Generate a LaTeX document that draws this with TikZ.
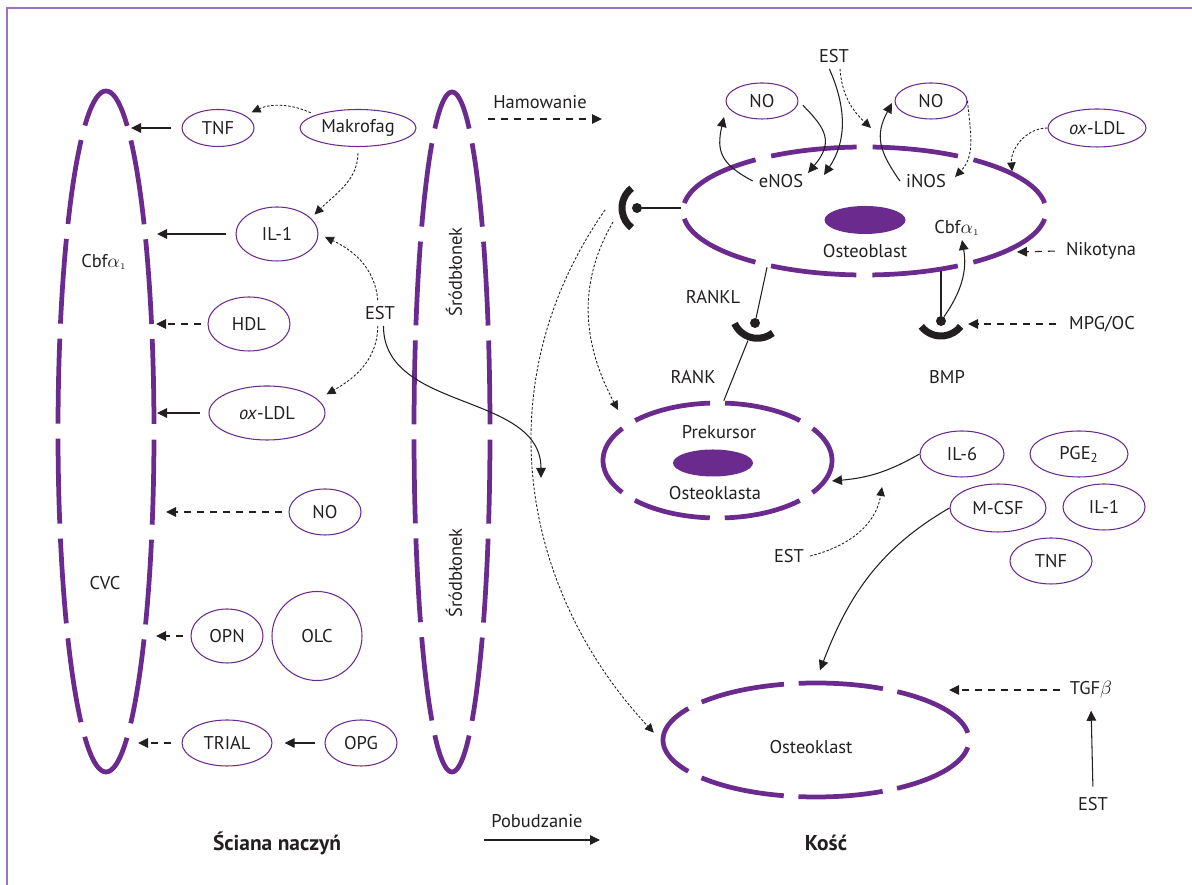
\documentclass[tikz,border=0pt]{standalone}
\usepackage{fontspec}
\setmainfont{PT Sans}
\usetikzlibrary{shapes.geometric,arrows.meta}
\definecolor{vessel}{RGB}{107,43,142}
\definecolor{rim}{RGB}{160,112,192}
\definecolor{ink}{RGB}{35,31,32}

\begin{document}
\begin{tikzpicture}[font=\fontsize{10.5}{12}\selectfont, color=ink,
  molec/.style={ellipse, draw=vessel, line width=0.6pt, inner sep=0pt},
  wall/.style={ellipse, draw=vessel, line width=0.095cm, inner sep=0pt},
  act/.style={line width=0.6pt, -{Triangle[length=0.2cm,width=0.19cm]}},
  inh/.style={act, dash pattern=on 0.14cm off 0.12cm},
  faint/.style={line width=0.5pt, dash pattern=on 0.05cm off 0.035cm, -{Triangle[length=0.18cm,width=0.17cm]}},
  link/.style={line width=0.6pt},
  cup/.style={line width=0.14cm},
  knob/.style={circle, fill=ink, inner sep=0pt, minimum size=0.2cm},
  title/.style={font=\fontsize{12.2}{14}\selectfont\bfseries}]

\useasboundingbox (0,0) rectangle (23.84,17.7);
\draw[rim, line width=0.7pt] (0.14,0) -- (0.14,17.54) -- (23.84,17.54);

% walls and cells
\node[wall, minimum width=1.92cm, minimum height=13.62cm, dash pattern=on 1.70cm off 0.30cm, dash phase=1.85cm] (vesL) at (2.12,9.07) {};
\node[wall, minimum width=1.52cm, minimum height=13.60cm, dash pattern=on 1.68cm off 0.30cm, dash phase=1.83cm] (vesR) at (9.04,9.06) {};
\node[wall, minimum width=7.26cm, minimum height=2.56cm, dash pattern=on 1.72cm off 0.32cm, dash phase=1.88cm] (ob) at (17.29,13.48) {};
\node[wall, minimum width=4.58cm, minimum height=2.30cm, dash pattern=on 1.55cm off 0.30cm, dash phase=0.775cm] (pk) at (14.35,8.49) {};
\node[wall, minimum width=6.12cm, minimum height=2.28cm, dash pattern=on 1.69cm off 0.295cm, dash phase=1.84cm] (ok) at (16.32,2.90) {};
\fill[vessel] (17.30,13.30) ellipse [x radius=0.81, y radius=0.28];
\fill[vessel] (14.26,8.44) ellipse [x radius=0.80, y radius=0.27];

% vessel side
\node[molec, minimum width=1.44cm, minimum height=0.74cm] (tnfL) at (4.36,15.14) {TNF};
\node[molec, minimum width=2.32cm, minimum height=0.74cm] (makro) at (7.16,15.14) {Makrofag};
\node[molec, minimum width=1.64cm, minimum height=1.08cm] (ilL) at (5.54,13.02) {IL-1};
\node[molec, minimum width=1.64cm, minimum height=1.08cm] (hdl) at (4.98,11.22) {HDL};
\node[molec, minimum width=2.32cm, minimum height=1.08cm] (oxL) at (5.34,9.44) {\textit{ox}-LDL};
\node[molec, minimum width=1.44cm, minimum height=0.92cm] (noL) at (6.50,7.46) {NO};
\node[molec, minimum width=1.44cm, minimum height=1.08cm] (opn) at (4.54,4.98) {OPN};
\node[molec, minimum width=1.80cm, minimum height=1.78cm] (olc) at (6.34,4.98) {OLC};
\node[molec, minimum width=1.80cm, minimum height=0.92cm] (trial) at (4.54,2.84) {TRIAL};
\node[molec, minimum width=1.44cm, minimum height=0.92cm] (opg) at (7.22,2.84) {OPG};

% bone side
\node[molec, minimum width=1.44cm, minimum height=0.72cm] (noA) at (15.24,15.68) {NO};
\node[molec, minimum width=1.44cm, minimum height=0.72cm] (noB) at (18.62,15.68) {NO};
\node[molec, minimum width=1.96cm, minimum height=0.76cm] (oxR) at (21.94,15.14) {\textit{ox}-LDL};
\node[molec, minimum width=1.68cm, minimum height=0.92cm] (il6) at (19.24,8.62) {IL-6};
\node[molec, minimum width=1.96cm, minimum height=0.92cm] (pge) at (21.58,8.62) {PGE\textsubscript{2}};
\node[molec, minimum width=1.92cm, minimum height=0.96cm] (mcsf) at (19.96,7.54) {M-CSF};
\node[molec, minimum width=1.64cm, minimum height=0.92cm] (ilR) at (22.08,7.56) {IL-1};
\node[molec, minimum width=1.64cm, minimum height=0.92cm] (tnfR) at (21.02,6.48) {TNF};

% labels
\node (hamow) at (10.80,15.66) {Hamowanie};
\node (pobud) at (10.74,1.28) {Pobudzanie};
\node[title] (wallT) at (5.54,0.84) {Ściana naczyń};
\node[title] (boneT) at (16.52,0.84) {Kość};
\node (cbfL) at (2.08,12.46) {Cbf$\alpha_{\scriptscriptstyle 1}$};
\node (cvc) at (2.10,6.04) {CVC};
\node (estL) at (7.60,11.44) {EST};
\node[rotate=90] (endoA) at (9.08,12.26) {Śródbłonek};
\node[rotate=90] (endoB) at (9.08,6.24) {Śródbłonek};
\node (estT) at (16.68,16.58) {EST};
\node (enos) at (15.62,14.08) {eNOS};
\node (inos) at (18.52,14.08) {iNOS};
\node (obT) at (17.30,12.68) {Osteoblast};
\node (cbfR) at (19.14,13.14) {Cbf$\alpha_{\scriptscriptstyle 1}$};
\node (rankl) at (14.26,11.76) {RANKL};
\node (rank) at (13.86,10.16) {RANK};
\node (bmp) at (18.94,10.16) {BMP};
\node (nik) at (22.02,12.68) {Nikotyna};
\node (mpg) at (22.04,11.22) {MPG/OC};
\node (prek) at (14.38,9.06) {Prekursor};
\node (oklT) at (14.30,7.84) {Osteoklasta};
\node (estM) at (15.78,6.58) {EST};
\node (okT) at (16.22,2.76) {Osteoklast};
\node (tgf) at (21.82,3.90) {TGF$\beta$};
\node (estB) at (21.86,1.62) {EST};

% receptors
\node[knob] (rcpL) at (12.74,13.54) {};
\node[knob] (rcpK) at (15.10,11.24) {};
\node[knob] (rcpB) at (18.82,11.28) {};
\draw[cup] (rcpL) ++(0:0.2) ++(128:0.5) arc[start angle=128, end angle=232, radius=0.5];
\draw[cup] (rcpK) ++(76:0.2) ++(204:0.5) arc[start angle=204, end angle=308, radius=0.5];
\draw[cup] (rcpB) ++(90:0.2) ++(218:0.5) arc[start angle=218, end angle=322, radius=0.5];
\draw[link] (rcpL) -- (rcpL -| ob.west);
\draw[link] (ob.210) -- (rcpK);
\draw[link, shorten <=0.27cm] (rcpK) -- (pk.84);
\draw[link] (rcpB) -- (rcpB |- ob.-37);

% free ends
\coordinate (aTNF) at (2.62,15.14);
\coordinate (aIL) at (3.14,13.02);
\coordinate (aHDL) at (3.12,11.22);
\coordinate (aOX) at (3.14,9.44);
\coordinate (aNO) at (3.32,7.46);
\coordinate (aOPN) at (3.12,4.98);
\coordinate (aTR) at (2.76,2.84);
\coordinate (aEST) at (10.82,8.14);
\coordinate (hamA) at (9.76,15.32);
\coordinate (hamB) at (12.04,15.32);
\coordinate (pobA) at (9.68,0.90);
\coordinate (pobB) at (12.00,0.90);
\coordinate (noAin) at (14.48,15.36);
\coordinate (enosIn) at (16.16,14.24);
\coordinate (estIn) at (16.48,14.20);
\coordinate (gapT) at (17.42,15.14);
\coordinate (noBin) at (17.84,15.64);
\coordinate (inosIn) at (19.10,14.16);
\coordinate (cbfIn) at (19.24,12.90);
\coordinate (nikTip) at (20.34,12.66);
\coordinate (mpgTip) at (19.36,11.22);
\coordinate (lgA) at (12.10,13.50);
\coordinate (lgB) at (12.26,13.26);
\coordinate (pkTip) at (12.36,9.50);
\coordinate (il6Tip) at (16.64,8.08);
\coordinate (estMTip) at (17.64,7.96);
\coordinate (tgfTip) at (18.98,3.90);

% vessel wall arrows
\draw[act, shorten <=0.2cm] (tnfL.west) -- (aTNF);
\draw[faint, shorten <=0.1cm, shorten >=0.14cm] (makro.163) to[out=155,in=25] (tnfL.25);
\draw[faint, shorten <=0.12cm, shorten >=0.1cm] (makro.south) to[out=-90,in=45] (ilL.25);
\draw[act, shorten <=0.18cm] (ilL.west) -- (aIL);
\draw[inh, shorten <=0.12cm] (hdl.west) -- (aHDL);
\draw[act, shorten <=0.16cm] (oxL.west) -- (aOX);
\draw[faint, shorten >=0.14cm] (estL.100) to[out=95,in=-25] (ilL.east);
\draw[faint, shorten >=0.2cm] (estL.-100) to[out=-90,in=30] (oxL.15);
\draw[inh, shorten <=0.12cm] (noL.west) -- (aNO);
\draw[inh, shorten <=0.14cm] (opn.west) -- (aOPN);
\draw[inh, shorten <=0.2cm] (trial.west) -- (aTR);
\draw[act, shorten <=0.18cm, shorten >=0.24cm] (opg.west) -- (trial.east);
\draw[act] (estL.-75) to[out=-90,in=90] (aEST);
\draw[inh] (hamA) -- (hamB);
\draw[act] (pobA) -- (pobB);

% bone arrows
\draw[act] (estT.-110) to[out=-66,in=56] (estIn);
\draw[faint] (estT.-65) to[out=-86,in=137] (gapT);
\draw[act, looseness=1.3] (enos.west) to[out=152,in=-103] (noAin);
\draw[act, shorten <=0.12cm, looseness=1.4] (noA.east) to[out=-45,in=50] (enosIn);
\draw[act, looseness=1.2] (inos.west) to[out=125,in=-118] (noBin);
\draw[faint] (noB.east) to[out=-85,in=46] (inosIn);
\draw[faint] (oxR.west) to[out=180,in=95] (ob.15);
\draw[act] (rcpB) to[out=55,in=-80] (cbfIn);
\draw[inh, shorten <=0.1cm] (nik.west) -- (nikTip);
\draw[inh, shorten <=0.14cm] (mpg.west) -- (mpgTip);
\draw[faint, shorten >=0.2cm] (lgA) to[out=-125,in=133] (ok.west);
\draw[faint] (lgB) to[out=-120,in=118] (pkTip);
\draw[act] (il6.west) to[out=210,in=5] (il6Tip);
\draw[faint] (estM.east) to[out=14,in=-99] (estMTip);
\draw[act, shorten >=0.22cm] (mcsf.west) to[out=210,in=69] (ok.north);
\draw[inh, shorten <=0.07cm] (tgf.west) -- (tgfTip);
\draw[act, shorten <=0.09cm, shorten >=0.12cm] (estB.north) -- (tgf.south);
\end{tikzpicture}
\end{document}
